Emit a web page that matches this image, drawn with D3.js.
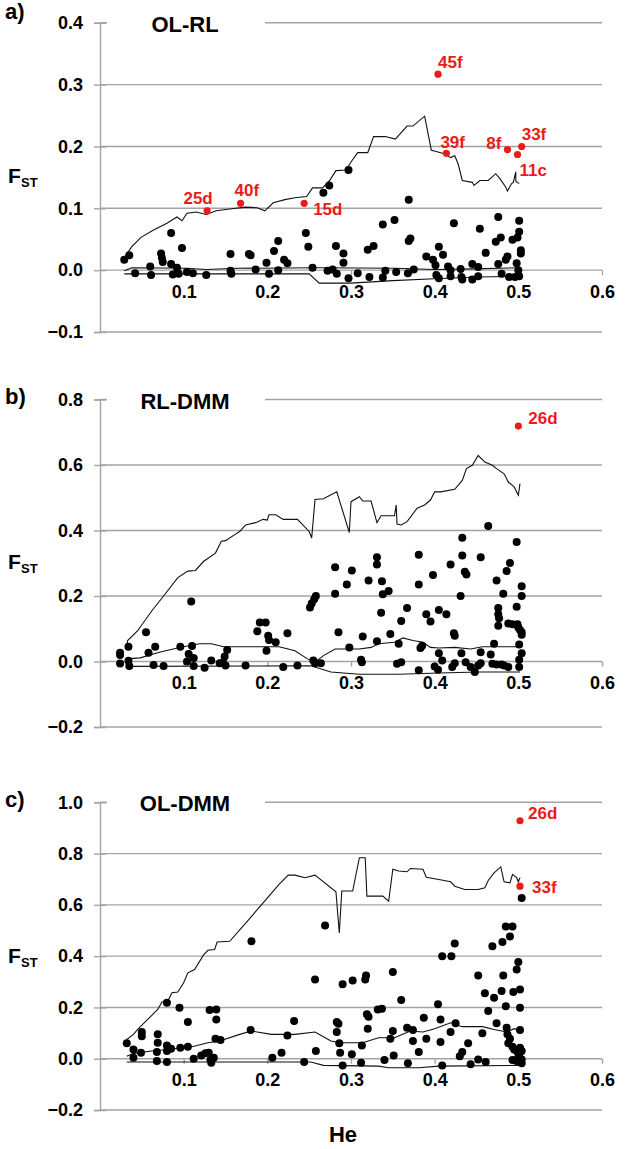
<!DOCTYPE html>
<html><head><meta charset="utf-8">
<script src="https://cdn.jsdelivr.net/npm/d3@7"></script>
<style>
body{margin:0;background:#fff}
svg{display:block}
text{font-family:"Liberation Sans",Arial,Helvetica,sans-serif;font-weight:bold}
</style>
</head><body>
<svg id="chart" width="625" height="1149"></svg>
<script>
// ---------------- DATA ----------------
const xTicks = [0.1, 0.2, 0.3, 0.4, 0.5, 0.6];
const yTicksA = [-0.1, 0.0, 0.1, 0.2, 0.3, 0.4];
const yTicksB = [-0.2, 0.0, 0.2, 0.4, 0.6, 0.8];
const yTicksC = [-0.2, 0.0, 0.2, 0.4, 0.6, 0.8, 1.0];
const titles = ["OL-RL", "RL-DMM", "OL-DMM"];
const panelLetters = ["a)", "b)", "c)"];

// [He, FST]
const dotsA = [[0.029,0.017],[0.035,0.024],[0.042,-0.005],[0.060,0.006],[0.061,-0.008],[0.073,0.027],[0.074,0.020],[0.075,0.013],[0.085,0.060],[0.085,0.010],[0.087,-0.007],[0.092,0.004],[0.098,0.036],[0.094,-0.006],[0.104,-0.003],[0.111,-0.005],[0.127,-0.008],[0.156,0.026],[0.156,-0.001],[0.157,-0.006],[0.178,0.026],[0.180,0.024],[0.186,0.001],[0.199,0.012],[0.202,-0.006],[0.208,0.031],[0.213,0.047],[0.213,0.000],[0.220,0.017],[0.224,0.011],[0.246,0.060],[0.249,0.038],[0.254,0.004],[0.267,0.125],[0.274,0.137],[0.272,-0.001],[0.278,0.001],[0.282,0.039],[0.283,-0.006],[0.291,0.012],[0.291,0.027],[0.297,0.162],[0.297,-0.013],[0.308,-0.005],[0.320,0.033],[0.327,0.039],[0.322,-0.011],[0.338,0.074],[0.338,-0.012],[0.341,-0.001],[0.352,0.081],[0.354,-0.003],[0.369,0.114],[0.369,0.047],[0.371,0.051],[0.368,-0.005],[0.375,0.001],[0.390,0.022],[0.398,0.017],[0.401,0.008],[0.402,-0.008],[0.405,-0.013],[0.405,0.038],[0.410,0.025],[0.423,0.076],[0.416,0.006],[0.419,0.000],[0.419,-0.010],[0.431,0.002],[0.432,-0.011],[0.433,-0.015],[0.445,0.010],[0.445,-0.015],[0.454,0.067],[0.452,0.005],[0.452,-0.010],[0.461,0.028],[0.473,0.046],[0.476,0.086],[0.479,0.053],[0.476,0.010],[0.480,-0.006],[0.485,0.017],[0.487,0.022],[0.489,-0.011],[0.493,0.049],[0.499,0.053],[0.501,0.080],[0.501,0.062],[0.503,0.032],[0.503,0.027],[0.498,0.011],[0.500,0.000],[0.501,-0.010],[0.496,-0.011]];
const upperA = [[0.029,0.020],[0.038,0.038],[0.049,0.053],[0.064,0.065],[0.080,0.076],[0.092,0.086],[0.098,0.080],[0.104,0.092],[0.115,0.094],[0.127,0.090],[0.139,0.096],[0.155,0.099],[0.174,0.102],[0.188,0.101],[0.197,0.096],[0.207,0.109],[0.221,0.114],[0.233,0.117],[0.247,0.119],[0.254,0.133],[0.266,0.133],[0.275,0.146],[0.282,0.161],[0.294,0.162],[0.301,0.177],[0.308,0.190],[0.320,0.190],[0.327,0.216],[0.341,0.216],[0.353,0.212],[0.367,0.233],[0.374,0.233],[0.388,0.249],[0.396,0.194],[0.402,0.192],[0.412,0.188],[0.419,0.182],[0.424,0.185],[0.428,0.172],[0.433,0.145],[0.445,0.142],[0.447,0.137],[0.454,0.145],[0.464,0.145],[0.473,0.156],[0.478,0.148],[0.485,0.134],[0.487,0.128],[0.492,0.140],[0.494,0.142],[0.497,0.159],[0.497,0.144],[0.501,0.140]];
const medianA = [[0.029,-0.001],[0.038,0.004],[0.104,0.003],[0.127,0.001],[0.165,0.003],[0.260,0.004],[0.353,0.003],[0.400,0.001],[0.447,0.002],[0.501,0.004]];
const lowerA = [[0.029,-0.006],[0.250,-0.006],[0.262,-0.021],[0.300,-0.021],[0.350,-0.017],[0.400,-0.014],[0.450,-0.011],[0.501,-0.010]];
const outliersA = [["45f",0.404,0.317],["39f",0.414,0.189],["8f",0.487,0.195],["33f",0.504,0.200],["11c",0.499,0.187],["25d",0.128,0.096],["40f",0.168,0.108],["15d",0.244,0.108]];

const dotsB = [[0.024,0.027],[0.024,0.020],[0.024,-0.006],[0.034,0.045],[0.035,-0.014],[0.034,0.002],[0.055,0.089],[0.058,0.027],[0.066,0.045],[0.064,-0.011],[0.076,-0.014],[0.096,0.045],[0.106,0.023],[0.104,0.000],[0.112,0.011],[0.112,-0.014],[0.110,0.047],[0.109,0.183],[0.125,-0.019],[0.133,0.003],[0.143,-0.005],[0.147,-0.002],[0.149,0.015],[0.150,-0.012],[0.152,0.035],[0.174,-0.012],[0.188,0.092],[0.191,0.119],[0.198,0.119],[0.199,0.033],[0.201,0.079],[0.202,0.066],[0.210,0.059],[0.219,-0.017],[0.224,0.086],[0.236,-0.012],[0.251,0.165],[0.253,0.177],[0.256,0.190],[0.258,0.200],[0.255,0.003],[0.257,-0.005],[0.264,-0.005],[0.281,0.288],[0.281,0.207],[0.285,0.089],[0.298,0.043],[0.295,0.235],[0.301,0.278],[0.312,0.005],[0.313,-0.002],[0.314,0.076],[0.321,0.247],[0.331,0.318],[0.331,0.296],[0.331,0.062],[0.336,0.149],[0.337,0.245],[0.338,0.205],[0.345,0.215],[0.347,0.084],[0.360,0.124],[0.355,-0.007],[0.360,-0.002],[0.367,0.163],[0.357,0.054],[0.381,0.326],[0.381,0.235],[0.385,0.048],[0.383,0.041],[0.381,-0.027],[0.390,0.144],[0.395,0.122],[0.398,0.264],[0.400,-0.015],[0.404,-0.025],[0.405,0.157],[0.405,0.025],[0.409,0.003],[0.414,0.144],[0.419,0.296],[0.423,0.086],[0.424,0.079],[0.421,-0.017],[0.424,-0.005],[0.431,0.200],[0.433,0.378],[0.433,0.324],[0.432,0.025],[0.436,0.274],[0.438,0.266],[0.437,-0.002],[0.443,-0.017],[0.448,-0.032],[0.452,-0.012],[0.455,0.318],[0.455,0.028],[0.455,-0.005],[0.464,0.414],[0.467,0.021],[0.469,-0.007],[0.471,0.054],[0.474,0.247],[0.476,0.163],[0.476,0.144],[0.477,0.132],[0.476,0.109],[0.474,-0.009],[0.480,-0.009],[0.482,0.207],[0.483,-0.012],[0.486,0.276],[0.488,0.116],[0.488,-0.017],[0.490,0.301],[0.493,0.114],[0.498,0.365],[0.498,0.167],[0.499,0.114],[0.500,0.104],[0.501,0.052],[0.502,0.096],[0.504,0.089],[0.504,0.200],[0.504,0.230],[0.504,0.025],[0.501,0.005],[0.501,-0.017],[0.504,0.082]];
const upperB = [[0.032,0.045],[0.033,0.064],[0.045,0.094],[0.062,0.155],[0.076,0.200],[0.093,0.256],[0.105,0.276],[0.114,0.278],[0.124,0.306],[0.138,0.331],[0.145,0.367],[0.150,0.369],[0.162,0.389],[0.167,0.397],[0.174,0.417],[0.186,0.424],[0.195,0.434],[0.200,0.432],[0.202,0.448],[0.210,0.448],[0.219,0.434],[0.236,0.434],[0.250,0.397],[0.253,0.377],[0.257,0.495],[0.267,0.497],[0.283,0.518],[0.298,0.394],[0.300,0.488],[0.310,0.503],[0.314,0.490],[0.324,0.490],[0.331,0.424],[0.336,0.445],[0.352,0.445],[0.354,0.478],[0.355,0.420],[0.360,0.417],[0.367,0.427],[0.379,0.468],[0.388,0.478],[0.395,0.493],[0.400,0.518],[0.407,0.518],[0.424,0.526],[0.433,0.553],[0.438,0.589],[0.445,0.599],[0.452,0.629],[0.460,0.609],[0.469,0.599],[0.474,0.589],[0.483,0.573],[0.488,0.548],[0.495,0.533],[0.500,0.508],[0.502,0.543]];
const medianB = [[0.032,0.008],[0.048,0.011],[0.071,0.028],[0.095,0.043],[0.119,0.054],[0.133,0.054],[0.148,0.045],[0.214,0.045],[0.233,0.033],[0.248,0.008],[0.257,-0.002],[0.267,0.018],[0.281,0.038],[0.310,0.038],[0.324,0.043],[0.333,0.054],[0.352,0.059],[0.362,0.072],[0.374,0.064],[0.386,0.059],[0.395,0.043],[0.405,0.041],[0.424,0.043],[0.443,0.038],[0.457,0.045],[0.502,0.045]];
const lowerB = [[0.032,-0.015],[0.252,-0.013],[0.276,-0.032],[0.310,-0.039],[0.357,-0.039],[0.405,-0.035],[0.452,-0.032],[0.502,-0.032]];
const outliersB = [["26d",0.500,0.719]];

const dotsC = [[0.269,0.520],[0.504,0.627],[0.493,0.516],[0.485,0.516],[0.490,0.477],[0.032,0.060],[0.040,0.036],[0.040,0.004],[0.050,0.104],[0.050,0.088],[0.049,0.023],[0.069,0.095],[0.069,0.062],[0.068,0.026],[0.068,-0.009],[0.080,0.218],[0.080,0.052],[0.080,0.030],[0.080,-0.013],[0.085,0.039],[0.095,0.199],[0.096,0.043],[0.105,0.143],[0.105,0.047],[0.112,0.000],[0.121,0.013],[0.126,0.021],[0.130,0.023],[0.131,0.190],[0.132,-0.005],[0.133,-0.016],[0.136,0.004],[0.138,0.078],[0.139,0.192],[0.139,0.153],[0.144,0.073],[0.180,0.112],[0.181,0.458],[0.206,0.004],[0.217,0.023],[0.224,0.091],[0.232,0.147],[0.244,-0.013],[0.257,0.309],[0.258,0.030],[0.283,0.143],[0.285,0.136],[0.283,0.104],[0.286,0.060],[0.287,0.023],[0.290,-0.026],[0.290,0.290],[0.301,0.017],[0.302,0.305],[0.312,-0.016],[0.313,0.052],[0.317,0.309],[0.318,0.325],[0.319,0.173],[0.321,0.164],[0.320,0.117],[0.332,0.192],[0.337,0.195],[0.340,-0.005],[0.347,0.078],[0.350,0.338],[0.350,0.108],[0.351,0.013],[0.360,0.229],[0.368,-0.018],[0.367,0.121],[0.374,0.112],[0.374,0.069],[0.381,0.026],[0.387,0.160],[0.390,0.078],[0.404,0.212],[0.407,0.153],[0.407,0.065],[0.409,-0.026],[0.409,0.400],[0.420,0.400],[0.419,0.104],[0.424,0.449],[0.425,0.138],[0.430,0.010],[0.433,0.026],[0.440,0.060],[0.443,-0.022],[0.452,-0.003],[0.452,0.325],[0.457,0.099],[0.460,0.255],[0.461,-0.013],[0.464,0.186],[0.469,0.439],[0.471,0.238],[0.474,0.138],[0.481,0.455],[0.480,0.264],[0.482,0.325],[0.485,0.205],[0.486,0.121],[0.487,0.095],[0.488,0.060],[0.490,0.078],[0.493,0.047],[0.494,0.260],[0.495,0.036],[0.498,0.348],[0.499,0.026],[0.500,0.377],[0.500,0.004],[0.501,0.017],[0.502,0.270],[0.502,0.199],[0.502,0.112],[0.502,0.043],[0.504,0.030],[0.504,-0.003],[0.504,-0.018],[0.498,-0.009],[0.493,-0.005]];
const upperC = [[0.032,0.075],[0.040,0.095],[0.045,0.114],[0.057,0.153],[0.069,0.192],[0.074,0.221],[0.081,0.225],[0.086,0.257],[0.093,0.260],[0.100,0.296],[0.105,0.335],[0.113,0.348],[0.124,0.406],[0.129,0.423],[0.137,0.426],[0.140,0.455],[0.155,0.458],[0.176,0.536],[0.195,0.608],[0.214,0.680],[0.225,0.716],[0.233,0.716],[0.245,0.706],[0.257,0.716],[0.282,0.651],[0.286,0.490],[0.289,0.654],[0.302,0.654],[0.310,0.784],[0.317,0.784],[0.319,0.634],[0.338,0.634],[0.345,0.614],[0.350,0.739],[0.357,0.732],[0.367,0.729],[0.371,0.742],[0.386,0.739],[0.390,0.708],[0.405,0.699],[0.419,0.690],[0.424,0.673],[0.436,0.660],[0.452,0.660],[0.460,0.667],[0.464,0.695],[0.471,0.725],[0.479,0.748],[0.483,0.690],[0.490,0.686],[0.493,0.719],[0.498,0.706],[0.500,0.690],[0.502,0.706]];
const medianC = [[0.032,0.010],[0.040,0.021],[0.062,0.030],[0.081,0.036],[0.110,0.047],[0.129,0.062],[0.143,0.069],[0.167,0.095],[0.181,0.108],[0.205,0.095],[0.233,0.095],[0.257,0.104],[0.276,0.069],[0.286,0.062],[0.314,0.062],[0.333,0.082],[0.352,0.082],[0.371,0.108],[0.386,0.104],[0.400,0.117],[0.419,0.140],[0.433,0.125],[0.457,0.125],[0.471,0.114],[0.486,0.104],[0.495,0.117],[0.502,0.108]];
const lowerC = [[0.032,-0.013],[0.252,-0.013],[0.267,-0.026],[0.333,-0.029],[0.345,-0.035],[0.381,-0.035],[0.405,-0.029],[0.502,-0.026]];
const outliersC = [["26d",0.502,0.928],["33f",0.502,0.673]];

// ---------------- LAYOUT (not data) ----------------
const X0 = 100, X1 = 602;
const layout = [
  {ticks: yTicksA, y0: 332, y1: 22.8, letterY: 19, fY: 183,
   dots: dotsA, lines: [upperA, medianA, lowerA], out: outliersA,
   lab: {"45f":[0,-6,"start"],"39f":[-6,-5,"start"],"8f":[-6,-1,"end"],"33f":[0,-6,"start"],"11c":[2,21,"start"],"25d":[-9,-7,"middle"],"40f":[-6,-7,"start"],"15d":[9,12,"start"]}},
  {ticks: yTicksB, y0: 727, y1: 399.5, letterY: 404, fY: 569,
   dots: dotsB, lines: [upperB, medianB, lowerB], out: outliersB,
   lab: {"26d":[10,-2,"start"]}},
  {ticks: yTicksC, y0: 1110, y1: 802.3, letterY: 807, fY: 963,
   dots: dotsC, lines: [upperC, medianC, lowerC], out: outliersC,
   lab: {"26d":[8,-2,"start"],"33f":[12,7,"start"]}}
];

const svg = d3.select("#chart");
const x = d3.scaleLinear().domain([0, 0.6]).range([X0, X1]);
const fmt = d3.format(".1f");
const gridColor = "#a3a3a3";
const red = "#ee1a1a";

layout.forEach((p, i) => {
  const ticks = p.ticks;
  const y = d3.scaleLinear().domain([ticks[0], ticks[ticks.length-1]]).range([p.y0, p.y1]);
  const g = svg.append("g");

  // gridlines
  g.selectAll("line.grid").data(ticks).join("line")
    .attr("x1", X0).attr("x2", X1)
    .attr("y1", d => y(d)).attr("y2", d => y(d))
    .attr("stroke", gridColor).attr("stroke-width", 1.4);

  // y axis
  const yAxis = d3.axisLeft(y).tickValues(ticks).tickFormat(fmt).tickSize(6).tickPadding(11);
  const ya = g.append("g").attr("transform", `translate(${X0},0)`).call(yAxis);
  ya.select(".domain").attr("stroke", gridColor).attr("stroke-width", 1.4);
  ya.selectAll(".tick line").attr("stroke", gridColor).attr("stroke-width", 1.4).attr("x2", 6).attr("x1", -6);
  ya.selectAll(".tick text").attr("font-size", 18).attr("font-weight", "bold")
    .attr("font-family", '"Liberation Sans",Arial,sans-serif').attr("fill", "#000");

  // x axis on the zero line
  const xAxis = d3.axisBottom(x).tickValues(xTicks).tickFormat(fmt).tickSize(5).tickPadding(10);
  const xa = g.append("g").attr("transform", `translate(0,${y(0)})`).call(xAxis);
  xa.select(".domain").remove();
  xa.selectAll(".tick line").attr("stroke", gridColor).attr("stroke-width", 1.4);
  xa.selectAll(".tick text").attr("font-size", 18).attr("font-weight", "bold")
    .attr("font-family", '"Liberation Sans",Arial,sans-serif').attr("fill", "#000");

  // title box
  const yTop = y(ticks[ticks.length-1]);
  g.append("rect").attr("x", 107).attr("y", yTop - 14).attr("width", 158).attr("height", 28).attr("fill", "#fff");
  g.append("text").attr("x", 185).attr("y", yTop + 9).attr("text-anchor", "middle")
    .attr("font-size", 22).text(titles[i]);

  // panel letter
  g.append("text").attr("x", 5).attr("y", p.letterY).attr("font-size", 22).text(panelLetters[i]);

  // F_ST label
  g.append("text").attr("x", 8).attr("y", p.fY).attr("font-size", 21).text("F");
  g.append("text").attr("x", 21).attr("y", p.fY + 4).attr("font-size", 13).text("ST");

  // lines
  const line = d3.line().x(d => x(d[0])).y(d => y(d[1]));
  g.selectAll("path.q").data(p.lines).join("path")
    .attr("d", line).attr("fill", "none").attr("stroke", "#111").attr("stroke-width", 1.1);

  // dots
  g.selectAll("circle.dot").data(p.dots).join("circle")
    .attr("cx", d => x(d[0])).attr("cy", d => y(d[1])).attr("r", 4).attr("fill", "#000");

  // outliers
  g.selectAll("circle.out").data(p.out).join("circle")
    .attr("cx", d => x(d[1])).attr("cy", d => y(d[2])).attr("r", 3.6).attr("fill", red);
  g.selectAll("text.out").data(p.out).join("text")
    .attr("x", d => x(d[1]) + p.lab[d[0]][0])
    .attr("y", d => y(d[2]) + p.lab[d[0]][1])
    .attr("text-anchor", d => p.lab[d[0]][2])
    .attr("font-size", 17).attr("fill", red).text(d => d[0]);
});

// x axis title
svg.append("text").attr("x", 343).attr("y", 1142).attr("text-anchor", "middle")
  .attr("font-size", 22).text("He");
</script>
</body></html>
